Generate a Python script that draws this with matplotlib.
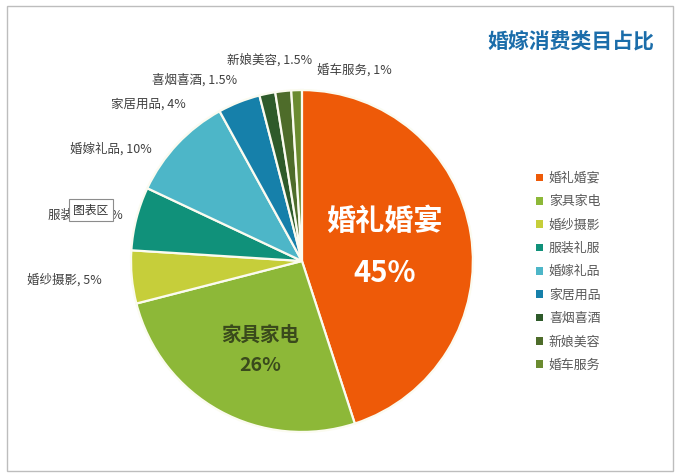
"""
Pie chart of wedding spending categories (婚嫁消费类目占比).
"""

import matplotlib.pyplot as plt
from matplotlib.patches import Rectangle

plt.rcParams["font.family"] = ["Noto Sans CJK SC", "DejaVu Sans"]

categories = ["婚礼婚宴", "家具家电", "婚纱摄影", "服装礼服", "婚嫁礼品",
              "家居用品", "喜烟喜酒", "新娘美容", "婚车服务"]
shares = [45, 26, 5, 6, 10, 4, 1.5, 1.5, 1]
pct_text = ["45%", "26%", "5%", "6%", "10%", "4%", "1.5%", "1.5%", "1%"]
colors = ["#EE5A08", "#8DB838", "#C6CE3A", "#10917A", "#4DB6C8",
          "#1680AA", "#2E5A2A", "#4E6C2A", "#6B8B30"]

# outer label anchors (data coords of the unit pie) and alignment
outer_pos = {
    "婚纱摄影": (-1.17, -0.11, "right"),
    "服装礼服": (-1.05, 0.27, "right"),
    "婚嫁礼品": (-0.88, 0.655, "right"),
    "家居用品": (-0.68, 0.915, "right"),
    "喜烟喜酒": (-0.38, 1.06, "right"),
    "新娘美容": (-0.19, 1.175, "center"),
    "婚车服务": (0.09, 1.115, "left"),
}

fig = plt.figure(figsize=(6.81, 4.76), dpi=100)
ax = fig.add_axes([0.1924, 0.0924, 0.502, 0.7185])

wedges, _ = ax.pie(shares, colors=colors, startangle=90, counterclock=False,
                   radius=1.0,
                   wedgeprops=dict(edgecolor="#FBFBF0", linewidth=1.6))
ax.set_xlim(-1, 1)
ax.set_ylim(-1, 1)
ax.set_aspect("equal")
ax.axis("off")

# big labels inside the two main slices
ax.text(0.485, 0.235, categories[0], ha="center", va="center", color="white",
        fontsize=21, fontweight="bold")
ax.text(0.485, -0.07, pct_text[0], ha="center", va="center", color="white",
        fontsize=21, fontweight="bold")
ax.text(-0.246, -0.433, categories[1], ha="center", va="center", color="#3A4A1C",
        fontsize=14, fontweight="bold")
ax.text(-0.246, -0.614, pct_text[1], ha="center", va="center", color="#3A4A1C",
        fontsize=14, fontweight="bold")

for name, pct in zip(categories, pct_text):
    if name in outer_pos:
        x, y, ha = outer_pos[name]
        ax.text(x, y, f"{name}, {pct}", ha=ha, va="center", color="#404040",
                fontsize=9, clip_on=False)

leg = fig.legend(wedges, categories, loc="upper left",
                 bbox_to_anchor=(536 / 681, 1 - 172 / 476), frameon=False,
                 fontsize=9.3, labelcolor="#595959", handlelength=0.55,
                 handleheight=0.55, handletextpad=0.45, labelspacing=0.8,
                 borderpad=0, borderaxespad=0)
for h in leg.legend_handles:
    h.set_edgecolor("none")

fig.text(654 / 681, 1 - 42 / 476, "婚嫁消费类目占比", ha="right", va="center",
         color="#1B6DAA", fontsize=15, fontweight="bold")

# chart-area tooltip as captured in the screenshot
fig.text(91 / 681, 1 - 210 / 476, "图表区", ha="center", va="center",
         fontsize=8.5, color="#333333", zorder=10,
         bbox=dict(boxstyle="square,pad=0.4", facecolor="white",
                   edgecolor="#8C8C8C", linewidth=0.8))

# outer frame
fig.patches.append(Rectangle((7 / 681, 5 / 476), 666 / 681, 465 / 476,
                             transform=fig.transFigure, fill=False,
                             edgecolor="#BDBDBD", linewidth=1.0))

fig.savefig("out.png", dpi=100, facecolor="white")
